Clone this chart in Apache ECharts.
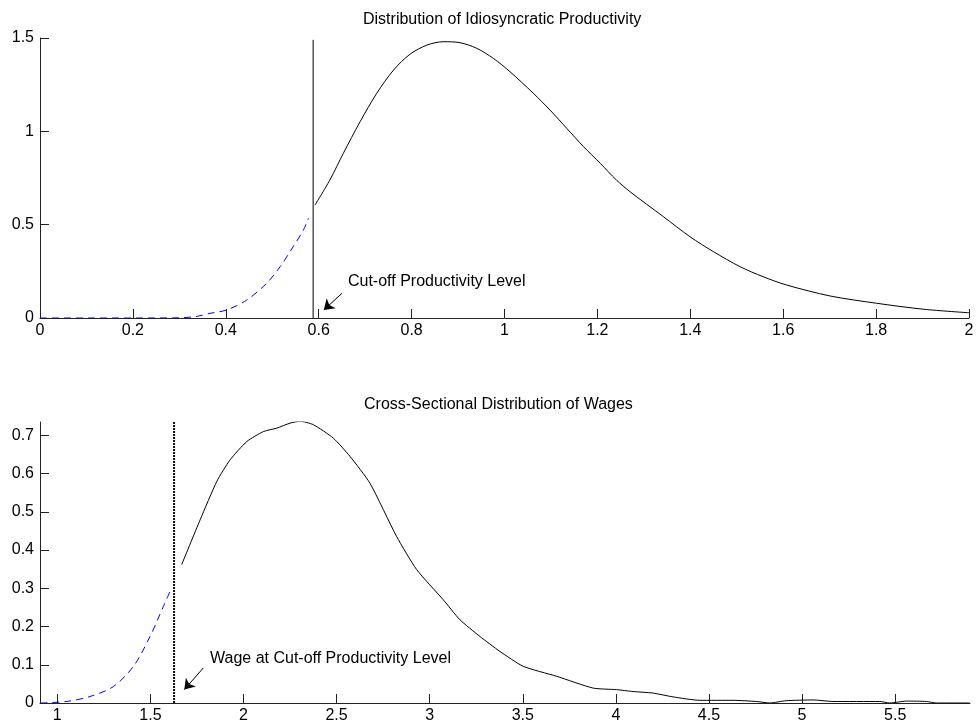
<!DOCTYPE html>
<html>
<head>
    <meta charset="utf-8">
    <title>ECharts</title>
    <script src="https://cdn.jsdelivr.net/npm/echarts@6/dist/echarts.min.js"></script>
    <style>body{margin:0;background:#fff}</style>
</head>
<body>
    <div id="main" style="width: 978px;height:727px;"></div>
    <script type="text/javascript">
// top panel: productivity density, below and above the cut-off
var prodLowX = [0, 0.1, 0.2, 0.3, 0.33, 0.344, 0.366, 0.402, 0.445, 0.488, 0.517, 0.545, 0.567, 0.578];
var prodLowY = [0, 0, 0, 0.001, 0.006, 0.012, 0.025, 0.043, 0.096, 0.186, 0.275, 0.382, 0.471, 0.534];
var prodHighX = [0.592, 0.624, 0.653, 0.689, 0.725, 0.761, 0.797, 0.833, 0.868, 0.904, 0.940, 0.976, 1.012, 1.062,
    1.098, 1.134, 1.170, 1.206, 1.241, 1.270, 1.342, 1.399, 1.450, 1.507, 1.557, 1.607, 1.701, 1.801, 1.902, 2.0];
var prodHighY = [0.605, 0.739, 0.882, 1.051, 1.204, 1.328, 1.414, 1.462, 1.480, 1.475, 1.445, 1.391, 1.319, 1.204,
    1.114, 1.016, 0.918, 0.829, 0.739, 0.677, 0.543, 0.436, 0.355, 0.275, 0.221, 0.177, 0.118, 0.079, 0.047, 0.028];
var prodCut = 0.588, prodCutTop = 1.49;
var prodTicks = [0, 0.5, 1, 1.5];

// bottom panel: wage density
var wageLowX = [0.909, 1.051, 1.176, 1.301, 1.409, 1.498, 1.570, 1.609];
var wageLowY = [0.0, 0.004, 0.017, 0.043, 0.096, 0.174, 0.253, 0.296];
var wageHighX = [1.668, 1.767, 1.857, 1.928, 2.018, 2.107, 2.179, 2.250, 2.303, 2.375, 2.482, 2.572, 2.679, 2.822,
    2.930, 3.073, 3.162, 3.270, 3.377, 3.502, 3.681, 3.878, 4.003, 4.092, 4.199, 4.307, 4.450, 4.629, 4.754, 4.826,
    4.915, 5.059, 5.166, 5.417, 5.471, 5.561, 5.668, 5.722, 5.90];
var wageHighY = [0.362, 0.479, 0.580, 0.636, 0.684, 0.710, 0.719, 0.732, 0.737, 0.728, 0.693, 0.645, 0.575, 0.436,
    0.349, 0.270, 0.218, 0.174, 0.135, 0.096, 0.070, 0.039, 0.035, 0.030, 0.026, 0.016, 0.007, 0.007, 0.004, 0.0,
    0.006, 0.008, 0.004, 0.004, 0.0, 0.005, 0.004, 0.0, 0.0];
var wageCut = 1.627, wageCutTop = 0.735;
var wageXTicks = [1, 1.5, 2, 2.5, 3, 3.5, 4, 4.5, 5, 5.5];
var wageYTicks = [0, 0.1, 0.2, 0.3, 0.4, 0.5, 0.6, 0.7];

function pairs(xs, ys) {
    return xs.map(function (x, i) { return [x, ys[i]]; });
}

var font = 'Liberation Sans, Arial, sans-serif';
var axisCol = '#222';
var fs = 16;

function xAxisBase(extra) {
    var a = {
        type: 'value',
        axisLine: { onZero: false, lineStyle: { color: axisCol, width: 1 } },
        axisTick: { inside: true, length: 9, lineStyle: { color: axisCol } },
        axisLabel: { color: '#000', fontSize: fs, fontFamily: font, margin: 5 },
        splitLine: { show: false }
    };
    return Object.assign(a, extra);
}

var myChart = echarts.init(document.getElementById('main'));

var option = {
    animation: false,
    backgroundColor: '#ffffff',
    graphic: [
        { type: 'text', left: 363, top: 12, style: { text: 'Distribution of Idiosyncratic Productivity', fill: '#000', font: fs + 'px ' + font } },
        { type: 'text', left: 364, top: 397, style: { text: 'Cross-Sectional Distribution of Wages', fill: '#000', font: fs + 'px ' + font } }
    ],
    grid: [
        { left: 40, top: 38, width: 929, height: 280 },
        { left: 40, top: 422, width: 930, height: 281 }
    ],
    xAxis: [
        xAxisBase({ gridIndex: 0, min: 0, max: 2, interval: 0.2 }),
        xAxisBase({
            gridIndex: 1, min: 0.907, max: 5.902,
            axisTick: { inside: true, length: 9, lineStyle: { color: axisCol }, customValues: wageXTicks },
            axisLabel: { color: '#000', fontSize: fs, fontFamily: font, margin: 5, customValues: wageXTicks }
        })
    ],
    yAxis: [
        {
            gridIndex: 0, type: 'value', min: 0, max: 1.5,
            axisLine: { show: true, lineStyle: { color: axisCol } },
            axisTick: { show: true, inside: true, length: 9, lineStyle: { color: axisCol }, customValues: prodTicks },
            axisLabel: { color: '#000', fontSize: fs, fontFamily: font, margin: 6, customValues: prodTicks },
            splitLine: { show: false }
        },
        {
            gridIndex: 1, type: 'value', min: 0, max: wageCutTop,
            axisLine: { show: true, lineStyle: { color: axisCol } },
            axisTick: { show: true, inside: true, length: 9, lineStyle: { color: axisCol }, customValues: wageYTicks },
            axisLabel: { color: '#000', fontSize: fs, fontFamily: font, margin: 6, customValues: wageYTicks },
            splitLine: { show: false }
        }
    ],
    series: [
        {
            type: 'line', xAxisIndex: 0, yAxisIndex: 0, showSymbol: false, smooth: 0.3,
            data: pairs(prodLowX, prodLowY),
            lineStyle: { color: '#0000ff', width: 1, type: [7, 5] }
        },
        {
            type: 'line', xAxisIndex: 0, yAxisIndex: 0, showSymbol: false, smooth: 0.3,
            data: pairs(prodHighX, prodHighY),
            lineStyle: { color: '#000', width: 1 },
            markLine: {
                silent: true, symbol: ['none', 'arrow'], symbolSize: 10,
                lineStyle: { color: '#000', width: 1, type: 'solid' },
                label: { show: false },
                data: [[{ coord: [0.650, 0.132] }, { coord: [0.611, 0.043] }]]
            },
            markPoint: {
                silent: true, symbol: 'circle', symbolSize: 0,
                label: { show: true, position: 'right', distance: 0, color: '#000', fontSize: fs, fontFamily: font, formatter: 'Cut-off Productivity Level' },
                data: [{ coord: [0.663, 0.193] }]
            }
        },
        {
            type: 'line', xAxisIndex: 0, yAxisIndex: 0, showSymbol: false,
            data: [[prodCut, 0], [prodCut, prodCutTop]],
            lineStyle: { color: '#000', width: 1 }
        },
        {
            type: 'line', xAxisIndex: 1, yAxisIndex: 1, showSymbol: false, smooth: 0.3,
            data: pairs(wageLowX, wageLowY),
            lineStyle: { color: '#0000ff', width: 1, type: [7, 5] }
        },
        {
            type: 'line', xAxisIndex: 1, yAxisIndex: 1, showSymbol: false, smooth: 0.2,
            data: pairs(wageHighX, wageHighY),
            lineStyle: { color: '#000', width: 1 },
            markLine: {
                silent: true, symbol: ['none', 'arrow'], symbolSize: 10,
                lineStyle: { color: '#000', width: 1, type: 'solid' },
                label: { show: false },
                data: [[{ coord: [1.784, 0.0916] }, { coord: [1.682, 0.035] }]]
            },
            markPoint: {
                silent: true, symbol: 'circle', symbolSize: 0,
                label: { show: true, position: 'right', distance: 0, color: '#000', fontSize: fs, fontFamily: font, formatter: 'Wage at Cut-off Productivity Level' },
                data: [{ coord: [1.820, 0.116] }]
            }
        },
        {
            type: 'line', xAxisIndex: 1, yAxisIndex: 1, showSymbol: false,
            data: [[wageCut, 0], [wageCut, wageCutTop]],
            lineStyle: { color: '#111', width: 2, type: [2, 1] }
        }
    ]
};
myChart.setOption(option);
    </script>
</body>
</html>
